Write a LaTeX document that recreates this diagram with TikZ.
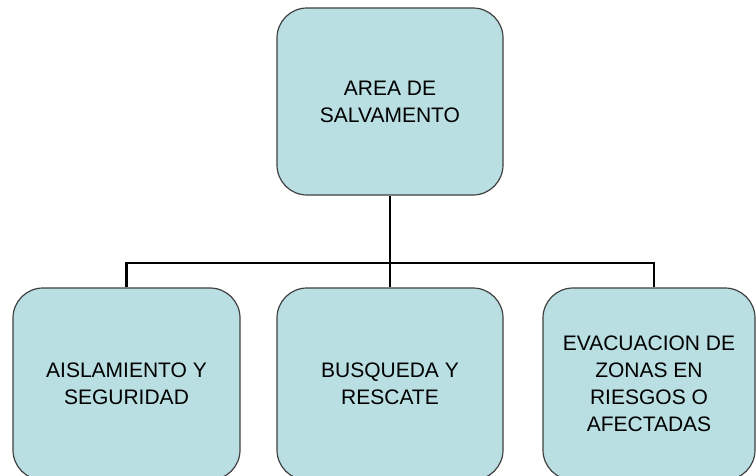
\documentclass[tikz,border=0pt]{standalone}
\usepackage{fontspec}
\setmainfont{Liberation Sans}
\begin{document}
\begin{tikzpicture}[x=1pt,y=-1pt,
  box/.style={draw=black!75, line width=1.2pt, fill=boxfill, rounded corners=30pt,
    align=center, font=\fontsize{21}{27}\selectfont, inner sep=0pt},
  conn/.style={draw=black, line width=2.6pt}]
\definecolor{boxfill}{HTML}{B9DFE2}
\useasboundingbox (0,0) rectangle (756,475);
\node[box, minimum width=226pt, minimum height=187pt] (top) at (390,101.5) {AREA DE\\SALVAMENTO};
\node[box, minimum width=227pt, minimum height=192pt] (left) at (126.5,384) {AISLAMIENTO Y\\SEGURIDAD};
\node[box, minimum width=226pt, minimum height=192pt] (mid) at (390,384) {BUSQUEDA Y\\RESCATE};
\node[box, minimum width=212pt, minimum height=192pt] (right) at (649,384) {EVACUACION DE\\ZONAS EN\\RIESGOS O\\AFECTADAS};
\coordinate (bus) at (390,263);
\draw[conn] (top.south) -- (bus);
\draw[conn] (bus) -- (mid.north);
\draw[conn] (left.north) |- (bus) -| ([xshift=5pt]right.north);
\end{tikzpicture}
\end{document}
